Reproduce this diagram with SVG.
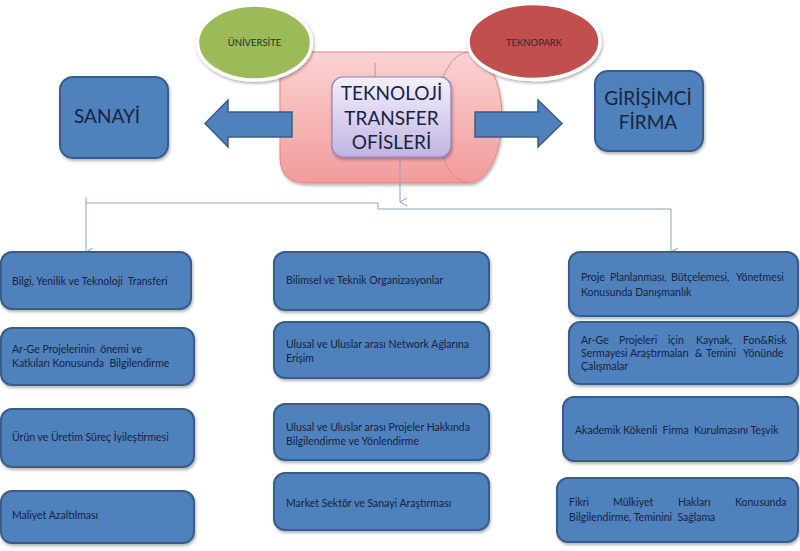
<svg xmlns="http://www.w3.org/2000/svg" width="800" height="551" viewBox="0 0 800 551">
<defs>
<linearGradient id="pink" x1="0" y1="0" x2="0" y2="1">
<stop offset="0" stop-color="#fbd3d3"/>
<stop offset="1" stop-color="#f39a9a"/>
</linearGradient>
<linearGradient id="lav" x1="0" y1="0" x2="0" y2="1">
<stop offset="0" stop-color="#f4f0fb"/>
<stop offset="1" stop-color="#c2b4e2"/>
</linearGradient>
<filter id="sh" x="-10%" y="-10%" width="130%" height="140%">
<feDropShadow dx="1" dy="2" stdDeviation="1.5" flood-color="#000" flood-opacity="0.3"/>
</filter>
<marker id="arr" markerUnits="userSpaceOnUse" markerWidth="12" markerHeight="12" viewBox="-6 -10 12 12" refX="0" refY="0" orient="auto-start-reverse">
<path d="M-4,-7 L0,0 L4,-7" fill="none" stroke="#8aa3bd" stroke-width="1"/>
</marker>
<style>
.box{fill:#4f81bd;stroke:#385d8a;stroke-width:2;filter:url(#sh)}
.t{font-family:Lato,"Open Sans","DejaVu Sans",sans-serif;fill:#16233f;font-size:10.5px;white-space:pre}
.big{font-family:Lato,"Open Sans","DejaVu Sans",sans-serif;fill:#17243f;font-size:19px}
.ell{font-family:Lato,"Open Sans","DejaVu Sans",sans-serif;fill:#2b2b2b;font-size:9.5px}
.con{fill:none;stroke:#8aa3bd;stroke-width:1}
</style>
</defs>
<rect width="800" height="551" fill="#ffffff"/>

<g id="cylinder">
<path d="M306,52 L469,52 A33,65.5 0 0 1 469,183 L306,183 Q280,183 280,157 L280,78 Q280,52 306,52 Z" fill="url(#pink)" stroke="#e08888" stroke-width="1" filter="url(#sh)"/>
<path d="M469,52 A33,65.5 0 0 0 469,183" fill="none" stroke="#e08888" stroke-width="1"/>
</g>

<g id="universite">
<ellipse cx="254.5" cy="42.5" rx="57" ry="37.5" fill="#9bbb59" stroke="#ffffff" stroke-width="3.5" filter="url(#sh)"/>
<text class="ell" x="254.5" y="46" text-anchor="middle">ÜNİVERSİTE</text>
</g>

<g id="teknopark">
<ellipse cx="534" cy="41.5" rx="66" ry="38" fill="#c0504d" stroke="#ffffff" stroke-width="3.5" filter="url(#sh)"/>
<text class="ell" x="534" y="46" text-anchor="middle">TEKNOPARK</text>
</g>

<g id="arrow-left">
<path d="M292,112 L228,112 L228,100 L205,123.5 L228,147 L228,137 L292,137 Z" fill="#4f81bd" stroke="#385d8a" stroke-width="1.5"/>
</g>
<g id="arrow-right">
<path d="M475,112 L538,112 L538,100 L562,123.5 L538,147 L538,137 L475,137 Z" fill="#4f81bd" stroke="#385d8a" stroke-width="1.5"/>
</g>

<g id="connectors">
<line class="con" x1="375" y1="63" x2="375" y2="77"/>
<line class="con" x1="400" y1="157" x2="400" y2="202" marker-end="url(#arr)"/>
<path class="con" d="M86,197 L86,252" marker-end="url(#arr)"/>
<path class="con" d="M86,203 L378,203 L378,209 L671,209 L671,252" marker-end="url(#arr)"/>
</g>

<g id="tto">
<rect x="332" y="77" width="119" height="80" rx="11" fill="url(#lav)" stroke="#8f80bf" stroke-width="1.2" filter="url(#sh)"/>
<text class="big" x="391.5" y="100" text-anchor="middle">TEKNOLOJİ</text>
<text class="big" x="391.5" y="125" text-anchor="middle">TRANSFER</text>
<text class="big" x="391.5" y="149" text-anchor="middle">OFİSLERİ</text>
</g>

<g id="sanayi">
<rect class="box" x="60" y="77" width="108" height="81" rx="13"/>
<text class="big" x="74" y="123">SANAYİ</text>
</g>

<g id="girisimci">
<rect class="box" x="595" y="71" width="108" height="80" rx="13"/>
<text class="big" x="648" y="105" text-anchor="middle">GİRİŞİMCİ</text>
<text class="big" x="648" y="129" text-anchor="middle">FİRMA</text>
</g>

<g id="l1"><rect class="box" x="1" y="252" width="190" height="57" rx="11"/>
<text class="t" x="12" y="285">Bilgi, Yenilik ve Teknoloji  Transferi</text></g>
<g id="l2"><rect class="box" x="1" y="328" width="193" height="57" rx="11"/>
<text class="t" x="12" y="353">Ar-Ge Projelerinin  önemi ve</text>
<text class="t" x="12" y="367">Katkıları Konusunda  Bilgilendirme</text></g>
<g id="l3"><rect class="box" x="1" y="409" width="193" height="58" rx="11"/>
<text class="t" x="12" y="441">Ürün ve Üretim Süreç İyileştirmesi</text></g>
<g id="l4"><rect class="box" x="1" y="491" width="193" height="52" rx="11"/>
<text class="t" x="12" y="519">Maliyet Azaltılması</text></g>

<g id="m1"><rect class="box" x="274" y="252" width="215" height="58" rx="11"/>
<text class="t" x="286" y="284">Bilimsel ve Teknik Organizasyonlar</text></g>
<g id="m2"><rect class="box" x="274" y="322" width="215" height="56" rx="11"/>
<text class="t" x="286" y="348">Ulusal ve Uluslar arası Network Ağlarına</text>
<text class="t" x="286" y="362">Erişim</text></g>
<g id="m3"><rect class="box" x="274" y="404" width="215" height="56" rx="11"/>
<text class="t" x="286" y="431">Ulusal ve Uluslar arası Projeler Hakkında</text>
<text class="t" x="286" y="445">Bilgilendirme ve Yönlendirme</text></g>
<g id="m4"><rect class="box" x="274" y="473" width="215" height="57" rx="11"/>
<text class="t" x="286" y="507">Market Sektör ve Sanayi Araştırması</text></g>

<g id="r1"><rect class="box" x="569" y="252" width="229" height="64" rx="11"/>
<text class="t" y="281"><tspan x="581">Proje</tspan><tspan x="610">Planlanması,</tspan><tspan x="671">Bütçelemesi,</tspan><tspan x="736">Yönetmesi</tspan></text>
<text class="t" x="581" y="296">Konusunda Danışmanlık</text></g>
<g id="r2"><rect class="box" x="569" y="322" width="229" height="62" rx="11"/>
<text class="t" y="344"><tspan x="581">Ar-Ge</tspan><tspan x="619">Projeleri</tspan><tspan x="668">için</tspan><tspan x="696">Kaynak,</tspan><tspan x="743">Fon&amp;Risk</tspan></text>
<text class="t" y="357"><tspan x="581">Sermayesi</tspan><tspan x="630">Araştırmaları</tspan><tspan x="695">&amp;</tspan><tspan x="706">Temini</tspan><tspan x="743">Yönünde</tspan></text>
<text class="t" x="581" y="370">Çalışmalar</text></g>
<g id="r3"><rect class="box" x="563" y="397" width="235" height="64" rx="11"/>
<text class="t" x="575" y="434">Akademik Kökenli  Firma  Kurulmasını Teşvik</text></g>
<g id="r4"><rect class="box" x="557" y="478" width="241" height="64" rx="11"/>
<text class="t" y="506"><tspan x="569">Fikri</tspan><tspan x="613">Mülkiyet</tspan><tspan x="678">Hakları</tspan><tspan x="735">Konusunda</tspan></text>
<text class="t" x="569" y="521">Bilgilendirme, Teminini  Sağlama</text></g>
</svg>
